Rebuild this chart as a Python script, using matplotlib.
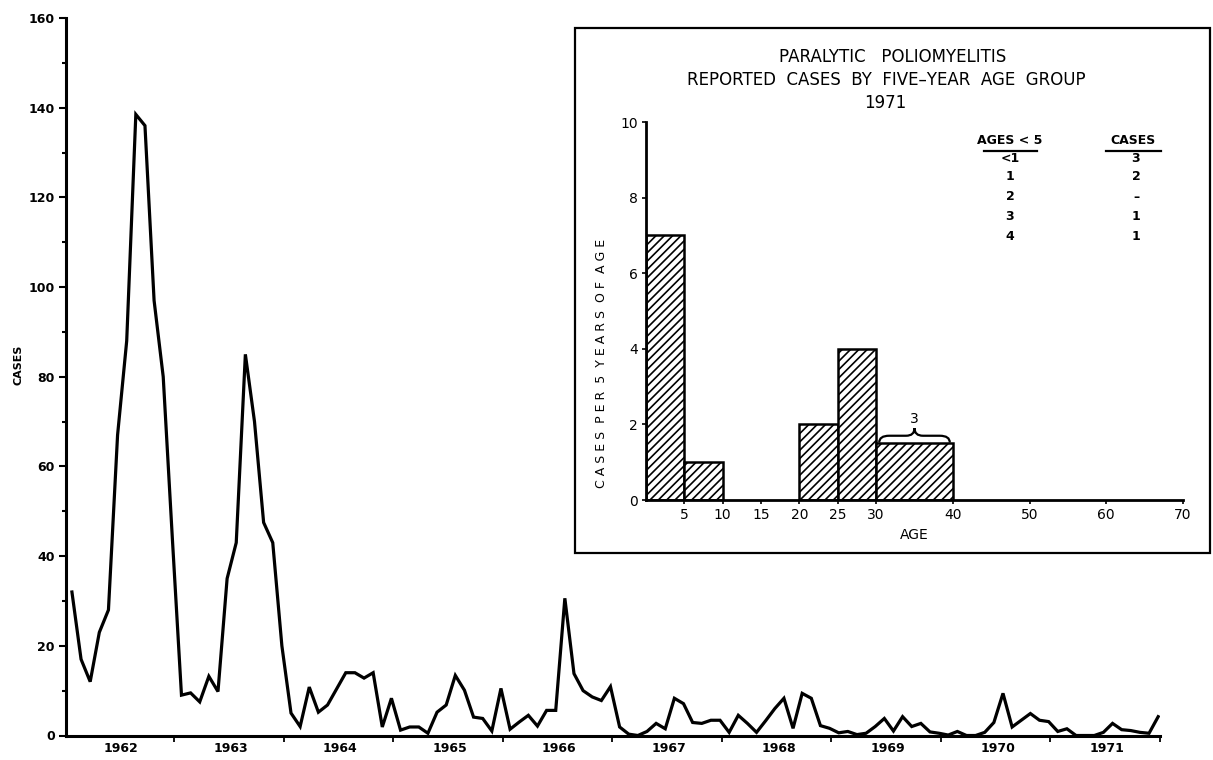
import matplotlib
matplotlib.use("Agg")
import matplotlib.pyplot as plt
import numpy as np
from matplotlib.patches import Rectangle, PathPatch
from matplotlib.path import Path
from matplotlib.lines import Line2D

# ---------------- data ----------------
years = [1962, 1963, 1964, 1965, 1966, 1967, 1968, 1969, 1970, 1971]
cases_1962 = [32, 17, 12, 23, 28, 67, 88, 138.5, 136, 97, 80, 44]
cases_1963 = [9, 9.5, 7.5, 13.2, 9.8, 35, 43, 85, 70, 47.5, 43, 20]
cases_1964 = [5, 2, 10.8, 5.2, 6.8, 10.4, 14, 14, 12.8, 14, 1.9, 8.3]
cases_1965 = [1.2, 1.9, 1.9, 0.5, 5.2, 6.8, 13.4, 10.1, 4.1, 3.8, 1.0, 10.5]
cases_1966 = [1.4, 3.0, 4.5, 2.1, 5.6, 5.6, 30.6, 13.8, 10.0, 8.6, 7.8, 10.9]
cases_1967 = [1.9, 0.3, 0, 0.9, 2.7, 1.5, 8.3, 7.1, 2.9, 2.7, 3.4, 3.4]
cases_1968 = [0.7, 4.5, 2.7, 0.7, 3.3, 6.0, 8.3, 1.6, 9.4, 8.3, 2.2, 1.6]
cases_1969 = [0.6, 0.9, 0.2, 0.5, 2.0, 3.8, 1.0, 4.2, 2.0, 2.7, 0.8, 0.5]
cases_1970 = [0.1, 0.9, 0, 0, 0.7, 2.9, 9.4, 1.9, 3.4, 4.9, 3.4, 3.1]
cases_1971 = [0.9, 1.5, 0, 0, 0, 0.7, 2.7, 1.3, 1.1, 0.7, 0.5, 4.2]
monthly_cases = (cases_1962 + cases_1963 + cases_1964 + cases_1965 + cases_1966
                 + cases_1967 + cases_1968 + cases_1969 + cases_1970 + cases_1971)

# inset: age histogram 1971
age_left = [0, 5, 20, 25, 30]
age_width = [5, 5, 5, 5, 10]
age_rate = [7, 1, 2, 4, 1.5]      # cases per 5 years of age
age_ticks = [5, 10, 15, 20, 25, 30, 40, 50, 60, 70]
under5_ages = ["<1", "1", "2", "3", "4"]
under5_cases = ["3", "2", "\u2013", "1", "1"]

W, H = 1213, 760
fig = plt.figure(figsize=(W / 100, H / 100), dpi=100)
fig.patch.set_facecolor("white")

FONT = "DejaVu Sans"
plt.rcParams["font.family"] = FONT
plt.rcParams["hatch.linewidth"] = 1.2


def fx(px):
    return px / W


def fy(py):
    return 1 - py / H


def spaced(s):
    # letter-spaced lettering
    return "  ".join(" ".join(w) for w in s.split(" "))


# ---------------- main chart ----------------
ax = fig.add_axes([fx(66), fy(735.5), fx(1160) - fx(66), fy(18) - fy(735.5)])
x = np.arange(len(monthly_cases)) + 0.8
ax.plot(x, monthly_cases, color="black", lw=2.3, solid_joinstyle="miter")
ax.set_xlim(0.15, 120)
ax.set_ylim(0, 160)
for s in ["top", "right"]:
    ax.spines[s].set_visible(False)
for s in ["left", "bottom"]:
    ax.spines[s].set_linewidth(2.2)

ax.set_yticks(np.arange(0, 161, 20))
ax.set_yticks(np.arange(10, 160, 20), minor=True)
ax.set_yticklabels([str(v) for v in range(0, 161, 20)], fontsize=9, fontweight="bold")
ax.tick_params(axis="y", which="major", length=5, width=1.5, pad=3)
ax.tick_params(axis="y", which="minor", length=3, width=1.5)

ax.set_xticks(np.arange(12, 121, 12))
ax.set_xticklabels([])
ax.tick_params(axis="x", which="major", length=4, width=1.3)
ax.set_xticks(np.arange(len(years)) * 12 + 6.2, minor=True)
ax.set_xticklabels([str(y) for y in years], minor=True, fontsize=9, fontweight="bold")
ax.tick_params(axis="x", which="minor", length=0, pad=5)

fig.text(fx(19), fy(365), "CASES", rotation=90, ha="center", va="center",
         fontsize=8, fontweight="bold")

# ---------------- inset frame ----------------
fig.patches.append(Rectangle((fx(575), fy(553)), fx(1210) - fx(575), fy(28) - fy(553),
                             transform=fig.transFigure, facecolor="white",
                             edgecolor="black", lw=1.6, zorder=5))

fig.text(fx(893), fy(57), "PARALYTIC   POLIOMYELITIS", ha="center", va="center",
         fontsize=12, zorder=10)
fig.text(fx(886), fy(80), "REPORTED  CASES  BY  FIVE\u2013YEAR  AGE  GROUP", ha="center",
         va="center", fontsize=12, zorder=10)
fig.text(fx(885), fy(103), "1971", ha="center", va="center", fontsize=12, zorder=10)

iax = fig.add_axes([fx(646), fy(500), fx(1183) - fx(646), fy(122) - fy(500)], zorder=6)
iax.patch.set_alpha(0)
iax.bar(age_left, age_rate, width=age_width, align="edge", facecolor="white",
        edgecolor="black", lw=1.8, hatch="////")
iax.set_xlim(0, 70)
iax.set_ylim(0, 10)
for s in ["top", "right"]:
    iax.spines[s].set_visible(False)
for s in ["left", "bottom"]:
    iax.spines[s].set_linewidth(2.0)
iax.set_xticks(age_ticks)
iax.set_xticklabels([str(t) for t in age_ticks], fontsize=10)
iax.set_yticks(np.arange(0, 11, 2))
iax.set_yticklabels([str(v) for v in range(0, 11, 2)], fontsize=10)
iax.tick_params(axis="both", length=3, width=1.2, pad=3)
iax.set_xlabel("AGE", fontsize=10, labelpad=4)
iax.set_ylabel(spaced("CASES PER 5 YEARS OF AGE"), fontsize=9, labelpad=6)
iax.yaxis.set_label_coords(-0.07, 0.36)

# brace over 30-40 bar
b0, b1, by = 30.4, 39.6, age_rate[4]
mid = (b0 + b1) / 2
verts = [(b0, by + 0.02), (b0, by + 0.2), (b0 + 1.3, by + 0.2),
         (mid - 1.1, by + 0.2),
         (mid, by + 0.2), (mid, by + 0.4),
         (mid, by + 0.2), (mid + 1.1, by + 0.2),
         (b1 - 1.3, by + 0.2),
         (b1, by + 0.2), (b1, by + 0.02)]
codes = [Path.MOVETO, Path.CURVE3, Path.CURVE3, Path.LINETO,
         Path.CURVE3, Path.CURVE3, Path.CURVE3, Path.CURVE3,
         Path.LINETO, Path.CURVE3, Path.CURVE3]
iax.add_patch(PathPatch(Path(verts, codes), facecolor="none", edgecolor="black", lw=1.6))
iax.text(mid, by + 0.45, "3", ha="center", va="bottom", fontsize=10)

# under-5 table
col1, col2 = 1010, 1133
fig.text(fx(col1), fy(141), "AGES < 5", ha="center", va="center", fontsize=9,
         fontweight="bold", zorder=10)
fig.text(fx(col2), fy(141), "CASES", ha="center", va="center", fontsize=9,
         fontweight="bold", zorder=10)
fig.add_artist(Line2D([fx(984), fx(1037)], [fy(151), fy(151)], color="black", lw=1.6, zorder=10))
fig.add_artist(Line2D([fx(1106), fx(1161)], [fy(151), fy(151)], color="black", lw=1.6, zorder=10))
row_y = [158, 177, 197, 216, 236]
for a, c, ry in zip(under5_ages, under5_cases, row_y):
    fig.text(fx(col1), fy(ry), a, ha="center", va="center", fontsize=9,
             fontweight="bold", zorder=10)
    fig.text(fx(col2 + 3), fy(ry), c, ha="center", va="center", fontsize=9,
             fontweight="bold", zorder=10)

fig.savefig("out.png", dpi=100, facecolor="white")
